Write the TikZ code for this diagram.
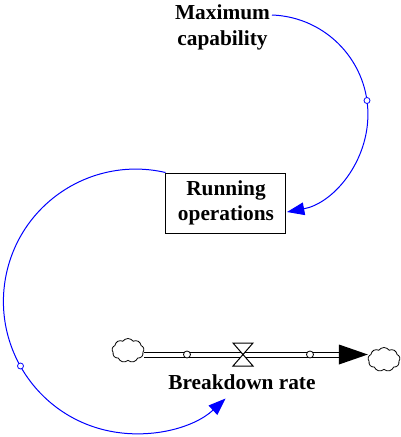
\documentclass[tikz,border=0pt]{standalone}
\usepackage{fontspec}
\setmainfont{Liberation Serif}
\usetikzlibrary{shapes.symbols,arrows.meta}
\begin{document}
\begin{tikzpicture}[x=0.75pt,y=-0.75pt,
  lbl/.style={font=\bfseries\fontsize{16}{19}\selectfont, align=center, inner sep=0pt},
  link/.style={draw=blue, line width=0.75pt, -{Triangle[length=13pt,width=9.5pt]}},
  tick/.style={circle, draw=blue, fill=white, inner sep=0pt, minimum size=4.5pt, line width=0.6pt},
  ptick/.style={circle, draw=black, fill=white, inner sep=0pt, minimum size=5.25pt, line width=0.6pt},
  cloudshape/.style={cloud, cloud puffs=9, cloud puff arc=110, draw, line width=0.6pt, aspect=1.3, minimum width=24pt, minimum height=18pt, inner sep=0pt},
  pipe/.style={draw=black, line width=0.75pt, double=white, double distance=3pt},
  valveshape/.style={draw=black, fill=white, line width=0.75pt},
  stock/.style={draw=black, line width=0.75pt, minimum width=90pt, minimum height=45pt, inner sep=0pt}
  ]
\useasboundingbox (0,0) rectangle (401,437);
% variables
\node[lbl] (max) at (222.5,27.5) {Maximum\\capability};
\node[stock, lbl] (run) at (226,203) {Running\\operations};
% flow
\node[cloudshape] (cl) at (128,350.5) {};
\node[cloudshape] (cr) at (384,359.5) {};
\coordinate (valve) at (243,354.5);
\coordinate (ahead) at (339,354.5);
\draw[pipe] (cl.east |- valve) -- (ahead);
\fill[black] ([yshift=7.5pt]ahead) -- (cr.west |- valve) -- ([yshift=-7.5pt]ahead) -- cycle;
\draw[valveshape] ([shift={(-10,-11.5)}]valve) -- ([shift={(10,-11.5)}]valve) -- ([shift={(-10,11.5)}]valve) -- ([shift={(10,11.5)}]valve) -- cycle;
\node[ptick] (p1) at (187,354.5) {};
\node[ptick] (p2) at (310,354.5) {};
\node[lbl, anchor=base] (rate) at (242,389) {Breakdown rate};
% links
\coordinate (m1) at (272,15);
\draw[link] (m1) arc[start angle=-88, end angle=79.3, radius=99.4];
\draw[link] (run.north west) arc[start angle=-77, end angle=-312.8, radius=132.3];
\node[tick] (t1) at (367,100.5) {};
\node[tick] (t2) at (20.5,366) {};
\end{tikzpicture}
\end{document}
